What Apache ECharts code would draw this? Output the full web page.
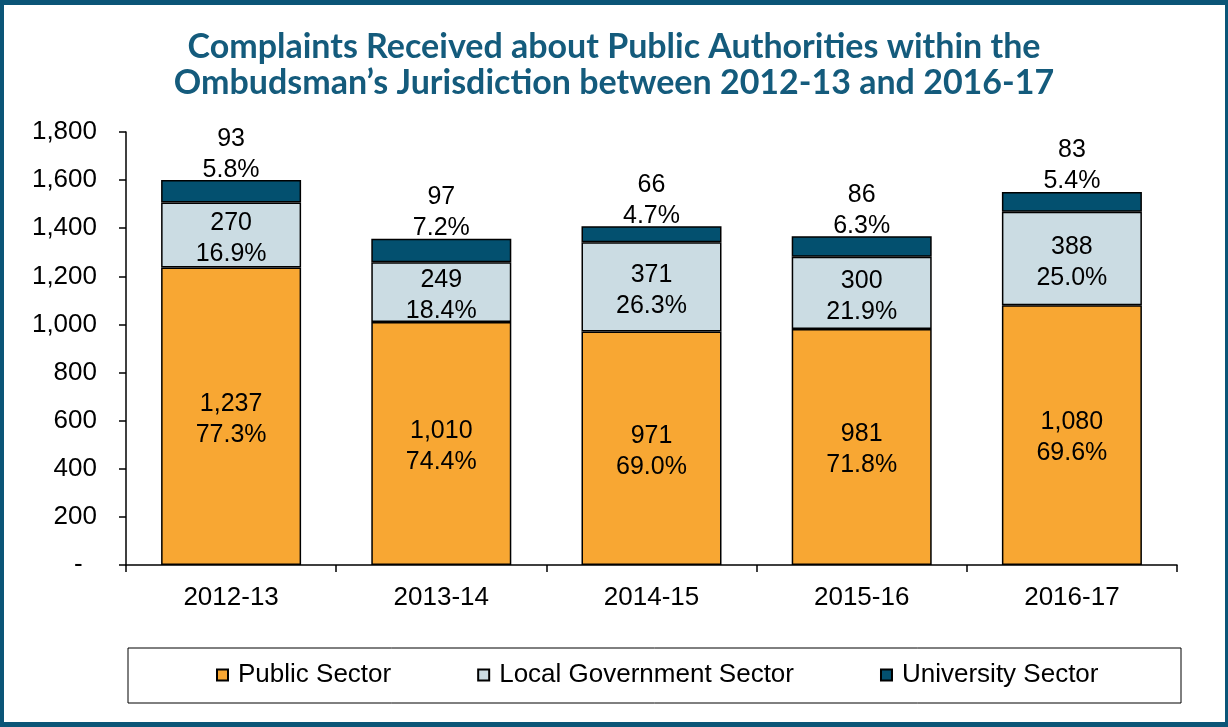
<!DOCTYPE html>
<html>
<head>
<meta charset="utf-8">
<script src="https://cdn.jsdelivr.net/npm/echarts@6/dist/echarts.min.js"></script>
<style>
html,body{margin:0;padding:0;background:#fff;}
#chart{width:1228px;height:727px;}
</style>
</head>
<body>
<div id="chart"></div>
<script>
const categories = ['2012-13','2013-14','2014-15','2015-16','2016-17'];
const publicSector = [1237, 1010, 971, 981, 1080];
const localGov = [270, 249, 371, 300, 388];
const university = [93, 97, 66, 86, 83];
const publicPct = [77.3, 74.4, 69.0, 71.8, 69.6];
const localPct = [16.9, 18.4, 26.3, 21.9, 25.0];
const universityPct = [5.8, 7.2, 4.7, 6.3, 5.4];
const yTicks = [0, 1800, 200];

const fmt = v => v.toLocaleString('en-US');
const chart = echarts.init(document.getElementById('chart'));
const labelFont = {fontFamily:'Liberation Sans', fontSize:25, color:'#000', lineHeight:31};
function mkLabel(vals, pcts, pos, dist, off){
  return Object.assign({show:true, position:pos, distance:dist, offset:off,
    formatter: p => fmt(vals[p.dataIndex]) + '\n' + pcts[p.dataIndex].toFixed(1) + '%'}, labelFont);
}
const border = '#0B5577';
chart.setOption({
  animation:false,
  title:{
    text:'Complaints Received about Public Authorities within the\nOmbudsman\u2019s Jurisdiction between 2012-13 and 2016-17',
    left:'center', top:24,
    textStyle:{fontFamily:'Lato', fontWeight:'bold', fontSize:34, color:'#145B7C', lineHeight:36}
  },
  graphic:[
    {type:'rect', shape:{x:128,y:648,width:1053,height:55}, style:{fill:'#fff', stroke:'#000', lineWidth:1}, z:0},
    {type:'rect', shape:{x:0,y:0,width:1228,height:5}, style:{fill:border}, z:10},
    {type:'rect', shape:{x:0,y:722,width:1228,height:5}, style:{fill:border}, z:10},
    {type:'rect', shape:{x:0,y:0,width:4,height:727}, style:{fill:border}, z:10},
    {type:'rect', shape:{x:1225,y:0,width:3,height:727}, style:{fill:border}, z:10}
  ],
  legend:{
    left:216, top:662, itemWidth:11, itemHeight:11, itemGap:86, padding:0,
    icon:'rect',
    textStyle:{fontFamily:'Liberation Sans', fontSize:26, color:'#000', padding:[0,0,0,5]},
    data:['Public Sector','Local Government Sector','University Sector']
  },
  grid:{left:126, right:51, top:132, bottom:162},
  xAxis:{
    type:'category', data:categories,
    axisLine:{lineStyle:{color:'#000', width:1.5}},
    axisTick:{show:true, length:7, lineStyle:{color:'#000', width:1.5}},
    axisLabel:{fontFamily:'Liberation Sans', fontSize:26, color:'#000', margin:20}
  },
  yAxis:{
    type:'value', min:yTicks[0], max:yTicks[1], interval:yTicks[2],
    splitLine:{show:false},
    axisLine:{show:true, lineStyle:{color:'#000', width:1.5}},
    axisTick:{show:true, length:7, lineStyle:{color:'#000', width:1.5}},
    axisLabel:{fontFamily:'Liberation Sans', fontSize:26, color:'#000', margin:29,
      formatter: v => v === 0 ? '-  ' : fmt(v)}
  },
  series:[
    {name:'Public Sector', type:'bar', stack:'t', data:publicSector, barWidth:140,
     itemStyle:{color:'#F8A733', borderColor:'#000', borderWidth:1.5},
     label:mkLabel(publicSector, publicPct, 'inside', 0, [0,3])},
    {name:'Local Government Sector', type:'bar', stack:'t', data:localGov,
     itemStyle:{color:'#CBDCE3', borderColor:'#000', borderWidth:1.5},
     label:mkLabel(localGov, localPct, 'inside', 0, [0,4])},
    {name:'University Sector', type:'bar', stack:'t', data:university,
     itemStyle:{color:'#03506F', borderColor:'#000', borderWidth:1.5},
     label:mkLabel(university, universityPct, 'top', 0, [0,5])}
  ]
});
</script>
</body>
</html>
